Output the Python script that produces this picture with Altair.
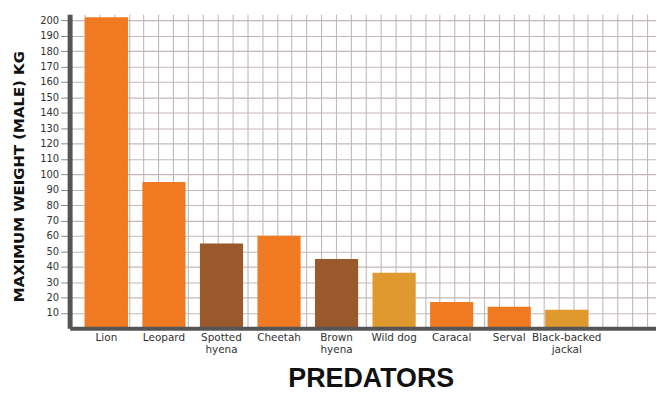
import altair as alt
import pandas as pd

predators = ["Lion", "Leopard", "Spotted hyena", "Cheetah", "Brown hyena",
             "Wild dog", "Caracal", "Serval", "Black-backed jackal"]
max_weight = [202, 95, 55, 60, 45, 36, 17, 14, 12]
family = ["Cat", "Cat", "Hyena", "Cat", "Hyena", "Dog", "Cat", "Cat", "Dog"]
y_ticks = list(range(10, 201, 10))

df = pd.DataFrame({"predator": predators, "weight": max_weight, "family": family})

grid_color = "#c3b7b7"
label_font = "DejaVu Sans"

y_enc = alt.Y(
    "weight:Q",
    scale=alt.Scale(domain=[0, 204], nice=False),
    axis=alt.Axis(
        values=y_ticks, tickCount=len(y_ticks), grid=True, gridColor=grid_color, gridWidth=1.1,
        labelOverlap=False, labelFlush=False,
        domainColor="#555555", domainWidth=5,
        tickColor="#8a8a8a", tickSize=9, tickWidth=1,
        labelFont=label_font, labelFontSize=10, labelColor="#333333", labelPadding=2,
        title="MAXIMUM WEIGHT (MALE) KG", titleFont=label_font, titleFontSize=15,
        titleFontWeight="bold", titleColor="#111111",
        titleX=-46, titleY=163, titleAngle=-90, titleAlign="center",
        titleBaseline="alphabetic",
    ),
)

grid_layer = alt.Chart(df).mark_point(opacity=0).encode(
    x=alt.X(
        datum=0, type="quantitative",
        scale=alt.Scale(domain=[0, 39.6], nice=False, zero=False),
        axis=alt.Axis(
            orient="bottom", values=list(range(0, 40)), tickCount=40, grid=True,
            gridColor=grid_color, gridWidth=1.1, labels=False, ticks=False,
            domain=False, title=None,
        ),
    ),
    y=y_enc,
)

bars = alt.Chart(df).mark_bar().encode(
    x=alt.X(
        "predator:N",
        sort=None,
        scale=alt.Scale(domain=predators + [" "], paddingInner=0.25,
                        paddingOuter=0.22, align=0.6),
        axis=alt.Axis(
            orient="bottom", labelAngle=0, ticks=False, grid=False,
            domainColor="#555555", domainWidth=4, zindex=1,
            labelFont=label_font, labelFontSize=10.5, labelColor="#333333",
            labelPadding=4, labelLineHeight=12.5, labelBaseline="top",
            labelOverlap=False,
            labelExpr="datum.label == 'Wild dog' ? datum.label : split(datum.label, ' ')",
            title="PREDATORS", titleFont="Liberation Sans", titleFontSize=27,
            titleFontWeight="bold", titleColor="#111111",
            titleX=303, titleY=59, titleBaseline="alphabetic", titleAlign="center",
        ),
    ),
    y=alt.Y("weight:Q"),
    color=alt.Color(
        "family:N",
        scale=alt.Scale(domain=["Cat", "Hyena", "Dog"],
                        range=["#ef7a22", "#99592a", "#e0992f"]),
        legend=None,
    ),
)

chart = (
    alt.layer(grid_layer, bars)
    .resolve_scale(x="independent")
    .resolve_axis(x="independent")
    .properties(
        width=590, height=316,
        autosize=alt.AutoSizeParams(type="none"),
        padding={"left": 62, "top": 5, "right": 0, "bottom": 64},
        background="white",
    )
    .configure_view(stroke=None)
)

chart.save("out.html", embed_options={"renderer": "svg", "actions": False})
